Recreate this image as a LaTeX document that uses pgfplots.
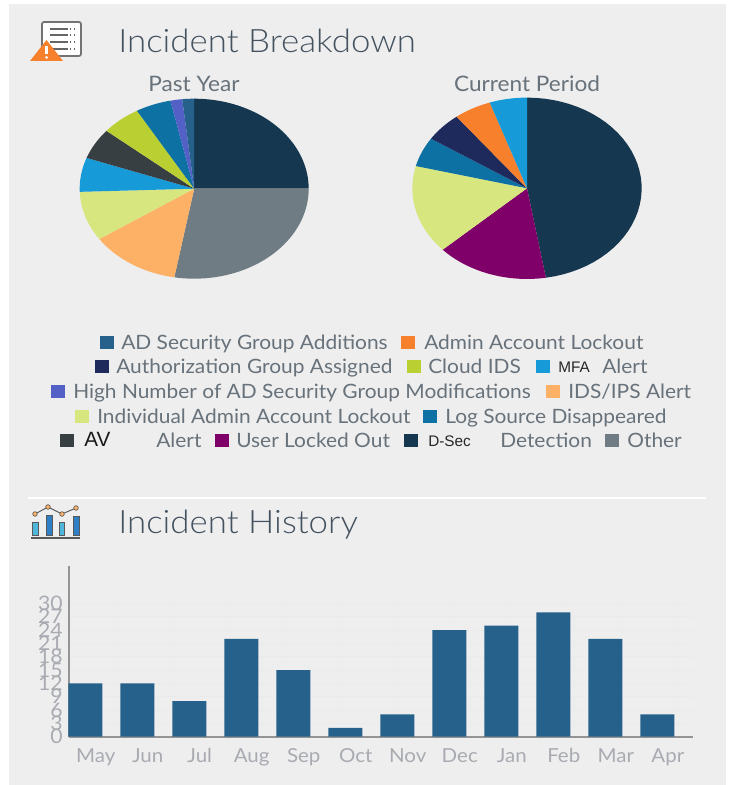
\documentclass[border=0pt]{standalone}
\usepackage{pgfplots}
\pgfplotsset{compat=1.18}
\usepackage{fontspec}
\setmainfont[FakeStretch=1.06]{Lato}
\newfontfamily\latolight[FakeStretch=1.08]{Lato Light}
\newfontfamily\arial{Liberation Sans}
\definecolor{panel}{HTML}{EEEEEE}
\definecolor{titlec}{HTML}{445260}
\definecolor{legc}{HTML}{68727B}
\definecolor{tickc}{HTML}{A9ABB2}
\definecolor{cDSec}{HTML}{15374F}
\definecolor{cOther}{HTML}{6F7C83}
\definecolor{cIDS}{HTML}{FDB166}
\definecolor{cIndiv}{HTML}{D8E680}
\definecolor{cMFA}{HTML}{169AD8}
\definecolor{cAV}{HTML}{383F42}
\definecolor{cCloud}{HTML}{BAD032}
\definecolor{cLog}{HTML}{0E71A3}
\definecolor{cHigh}{HTML}{5360C6}
\definecolor{cAD}{HTML}{26618C}
\definecolor{cUser}{HTML}{7F0068}
\definecolor{cAuth}{HTML}{1F2A5C}
\definecolor{cAdmin}{HTML}{F6802C}
\newcount\piecum
% colour, count, total of the pie: slices run clockwise from the top
\newcommand{\pieslice}[3]{%
  \pgfmathsetmacro{\sliceA}{\the\piecum/#3*360}%
  \global\advance\piecum by #2\relax
  \pgfmathsetmacro{\sliceB}{\the\piecum/#3*360}%
  \addplot[fill=#1,draw=none,domain=\sliceA:\sliceB,samples=40]
    ({sin(x)},{cos(x)}) -- (axis cs:0,0) -- cycle;
}
\pgfplotsset{pieaxis/.style={hide axis,scale only axis,anchor=center,
  xmin=-1,xmax=1,ymin=-1,ymax=1,clip=false}}
\pgfplotstableread{
idx month count
0 May 12
1 Jun 12
2 Jul 8
3 Aug 22
4 Sep 15
5 Oct 2
6 Nov 5
7 Dec 24
8 Jan 25
9 Feb 28
10 Mar 22
11 Apr 5
}\history
\newcommand{\fs}[1]{\fontsize{#1}{#1}\selectfont}
\newcommand{\sq}[3]{\fill[#3] (#1,785-#2-6.5) rectangle (#1+13.5,785-#2+6.5);}
\newcommand{\legt}[3]{\node[anchor=base west,inner sep=0,text=legc] at (#1,785-#2-6.5) {\fs{14.8pt}#3};}
\begin{document}
\begin{tikzpicture}[x=0.75pt,y=0.75pt]
\fill[white] (0,0) rectangle (738,785);
\fill[panel] (9,0) rectangle (726,781);
% titles
\node[anchor=base west,inner sep=0,text=titlec] at (118,785-53) {\latolight\fs{24.2pt}Incident Breakdown};
\node[anchor=base west,inner sep=0,text=titlec] at (118,785-533.5) {\latolight\fs{24.2pt}Incident History};
\node[anchor=base,inner sep=0,text=legc] at (194,785-92) {\fs{16pt}Past Year};
\node[anchor=base,inner sep=0,text=legc] at (527,785-92) {\fs{16pt}Current Period};
% separator
\draw[white,line width=1.5pt] (28,785-498.5) -- (706,785-498.5);
% report icon
\draw[line width=1.3pt,draw=black!55,fill=white,rounded corners=1.5pt] (42,785-22) rectangle (81,785-56);
\foreach \yy in {29,35,42,49}{\draw[line width=1pt,black!60] (50,785-\yy) -- (68,785-\yy); \draw[line width=1pt,black!60,dotted] (70,785-\yy) -- (77,785-\yy);}
\fill[cAdmin] (30,785-61) -- (46.5,785-40) -- (63,785-61) -- cycle;
\fill[white] (45.3,785-46) rectangle (48,785-54);
\fill[white] (46.6,785-57.5) circle (1.6);
% history icon
\foreach \xa/\xb/\yt/\cc in {32/38/522/4FB6DC,46/52/515/2F7FC7,59/64/522/4FB6DC,73/79/516/2F7FC7}{
  \definecolor{tmpc}{HTML}{\cc}
  \draw[fill=tmpc,draw=black!65,line width=0.5pt] (\xa,785-535) rectangle (\xb,785-\yt);}
\draw[line width=1.2pt,black!65] (31,785-538) -- (80,785-538);
\draw[line width=0.7pt,black!65] (35,785-514) -- (48,785-507) -- (62,785-514) -- (76,785-508);
\foreach \xa/\yt in {35/514,48/507,62/514,76/508}{\draw[fill=cIDS,draw=black!65,line width=0.5pt] (\xa,785-\yt) circle (2.3);}
% legend
\sq{100}{343}{cAD}\legt{121}{343}{AD Security Group Additions}
\sq{401}{343}{cAdmin}\legt{424}{343}{Admin Account Lockout}
\sq{95}{367}{cAuth}\legt{116}{367}{Authorization Group Assigned}
\sq{407}{367}{cCloud}\legt{428}{367}{Cloud IDS}
\sq{536}{367}{cMFA}\node[anchor=base west,inner sep=0,text=black!85] at (558,785-373) {\arial\fs{11.5pt}MFA};\legt{602}{367}{Alert}
\sq{51}{392}{cHigh}\legt{73}{392}{High Number of AD Security Group Modifications}
\sq{546}{392}{cIDS}\legt{568}{392}{IDS/IPS Alert}
\sq{75}{417}{cIndiv}\legt{97}{417}{Individual Admin Account Lockout}
\sq{423}{417}{cLog}\legt{445}{417}{Log Source Disappeared}
\sq{60}{441}{cAV}\node[anchor=base west,inner sep=0,text=black!90] at (84,785-447) {\arial\fs{15.5pt}AV};\legt{156}{441}{Alert}
\sq{215}{441}{cUser}\legt{236}{441}{User Locked Out}
\sq{404}{441}{cDSec}\node[anchor=base west,inner sep=0,text=black!85] at (428,785-446.5) {\arial\fs{11.5pt}D-Sec};\legt{500}{441}{Detection}
\sq{605}{441}{cOther}\legt{627}{441}{Other}
% anchors for axes
\coordinate (pieA) at (194.2,785-188.7);
\coordinate (pieB) at (527,785-188.3);
\coordinate (barO) at (69,785-736.7);
% Past Year
\begin{axis}[pieaxis,at={(pieA)},width=171.75pt,height=135pt]
\global\piecum=0
\pieslice{cDSec}{45}{180}
\pieslice{cOther}{50}{180}
\pieslice{cIDS}{23}{180}
\pieslice{cIndiv}{16}{180}
\pieslice{cMFA}{11}{180}
\pieslice{cAV}{10}{180}
\pieslice{cCloud}{10}{180}
\pieslice{cLog}{9}{180}
\pieslice{cHigh}{3}{180}
\pieslice{cAD}{3}{180}
\end{axis}
% Current Period
\begin{axis}[pieaxis,at={(pieB)},width=172pt,height=136pt]
\global\piecum=0
\pieslice{cDSec}{9}{19}
\pieslice{cUser}{3}{19}
\pieslice{cIndiv}{3}{19}
\pieslice{cLog}{1}{19}
\pieslice{cAuth}{1}{19}
\pieslice{cAdmin}{1}{19}
\pieslice{cMFA}{1}{19}
\end{axis}
% History
\begin{axis}[at={(barO)},anchor=south west,scale only axis,width=468.2pt,height=128pt,
  xmin=-0.313,xmax=11.69,ymin=0,ymax=38.4,clip=false,
  axis x line=bottom,axis y line=left,axis line style={draw=black!42,line width=1.5pt,-},
  ybar,bar width=25.5pt,
  xtick={0.2,1.2,2.2,3.2,4.2,5.2,6.2,7.2,8.2,9.2,10.2,11.2},
  xticklabels={May,Jun,Jul,Aug,Sep,Oct,Nov,Dec,Jan,Feb,Mar,Apr},
  ytick={0,3,...,30},
  major tick length=0pt,
  ymajorgrids,grid style={draw=black!9,densely dotted,line width=0.75pt},
  xmajorgrids=false,
  /pgf/number format/assume math mode=true,
  tick label style={text=tickc},
  yticklabel style={font=\fs{15pt},inner sep=0pt,xshift=-4.5pt},
  xticklabel style={font=\fs{14.5pt},inner sep=0pt,yshift=-8.5pt},
  axis on top=false]
\addplot[fill=cAD,draw=none] table[x=idx,y=count]{\history};
\end{axis}
\end{tikzpicture}
\end{document}
